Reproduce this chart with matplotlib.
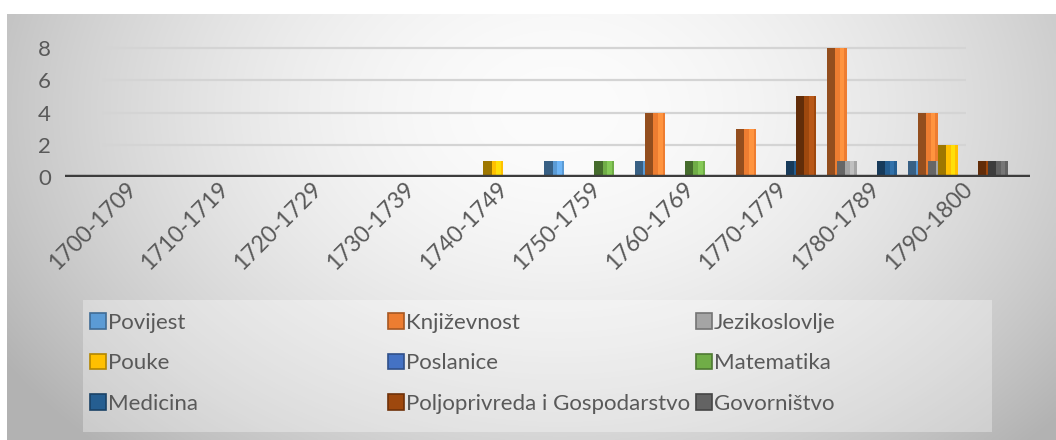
import numpy as np
import matplotlib
matplotlib.use("Agg")
import matplotlib.pyplot as plt
from matplotlib.patches import Patch, Rectangle
from matplotlib.transforms import ScaledTranslation
from matplotlib.colors import to_rgb

plt.rcParams['font.family'] = ['Lato', 'DejaVu Sans']

# ---- data -------------------------------------------------------------
decades = ["1700-1709", "1710-1719", "1720-1729", "1730-1739", "1740-1749",
           "1750-1759", "1760-1769", "1770-1779", "1780-1789", "1790-1800"]

povijest      = [0, 0, 0, 0, 0, 1, 1, 0, 0, 1]
knjizevnost   = [0, 0, 0, 0, 0, 0, 4, 3, 8, 4]
jezikoslovlje = [0, 0, 0, 0, 0, 0, 0, 0, 1, 1]
pouke         = [0, 0, 0, 0, 1, 0, 0, 0, 0, 2]
poslanice     = [0, 0, 0, 0, 0, 0, 0, 0, 0, 0]
matematika    = [0, 0, 0, 0, 0, 1, 1, 0, 0, 0]
medicina      = [0, 0, 0, 0, 0, 0, 0, 1, 1, 0]
poljoprivreda = [0, 0, 0, 0, 0, 0, 0, 5, 0, 1]
govornistvo   = [0, 0, 0, 0, 0, 0, 0, 0, 0, 1]

series_names = ["Povijest", "Književnost", "Jezikoslovlje", "Pouke", "Poslanice",
                "Matematika", "Medicina", "Poljoprivreda i Gospodarstvo", "Govorništvo"]
series_values = [povijest, knjizevnost, jezikoslovlje, pouke, poslanice,
                 matematika, medicina, poljoprivreda, govornistvo]
series_colors = ["#5B9BD5", "#ED7D31", "#A5A5A5", "#FFC000", "#4472C4",
                 "#70AD47", "#255E91", "#9E480E", "#636363"]

y_ticks = [0, 2, 4, 6, 8]

TEXT = "#595959"
W, H = 1056, 440

fig = plt.figure(figsize=(W / 100, H / 100), dpi=100)
fig.patch.set_facecolor("white")

# ---- soft radial background of the chart area --------------------------
bg = fig.add_axes([7 / W, 0, 1 - 7 / W, (H - 14) / H], zorder=-10)
gx, gy = np.meshgrid(np.linspace(7, W, 400), np.linspace(14, H, 200))
r = np.sqrt(((gx - 560) / 600) ** 2 + ((gy - 110) / 430) ** 2)
g = (252 - 62 * np.clip(r, 0, 1.1) ** 1.8) / 255
bg.imshow(np.dstack([g, g, g]), aspect="auto", extent=[0, 1, 0, 1],
          interpolation="bilinear")
bg.set_axis_off()

# ---- plot area ---------------------------------------------------------
ax = fig.add_axes([65 / W, (H - 177) / H, (1030 - 65) / W, 145 / H])
ax.set_facecolor("none")
n_cat = len(decades)
x = np.arange(n_cat)
ax.set_xlim(-0.81, 9.80)
ax.set_ylim(0, 9)

ax.hlines([t for t in y_ticks if t > 0], -0.4, 9.1, color="#d4d4d4",
          linewidth=1.6, zorder=0)
ax.hlines(0, -0.81, 9.80, color="#3c3c3c", linewidth=3.2, zorder=4)

step = 0.11
for k, (vals, col) in enumerate(zip(series_values, series_colors)):
    vals = np.asarray(vals, dtype=float)
    xc = x + (k - 4) * step
    m = vals > 0
    base = np.array(to_rgb(col))
    dark = base * 0.62
    light = np.minimum(base * 1.12 + 0.03, 1)
    z = 2 + k * 0.01
    # side face, front face and a highlight stripe
    ax.bar(xc[m] - 0.055, vals[m], width=0.09, color=dark, zorder=z)
    ax.bar(xc[m] + 0.055, vals[m], width=0.13, color=col, zorder=z)
    ax.bar(xc[m] + 0.065, vals[m], width=0.05, color=light, zorder=z)

for s in ax.spines.values():
    s.set_visible(False)

ax.set_yticks(y_ticks)
ax.set_yticklabels([str(t) for t in y_ticks], fontsize=16, color=TEXT)
ax.tick_params(axis="y", length=0, pad=10)

ax.set_xticks(x)
ax.set_xticklabels(decades, rotation=45, ha="right", va="center",
                   rotation_mode="anchor", fontsize=16.5, color=TEXT)
ax.tick_params(axis="x", length=0, pad=6)
for i, lab in enumerate(ax.get_xticklabels()):
    dx = (-6 + 2 * i) / 100
    lab.set_transform(lab.get_transform() + ScaledTranslation(dx, 0, fig.dpi_scale_trans))

# ---- legend ------------------------------------------------------------
fig.patches.append(Rectangle((83 / W, (H - 432) / H), (992 - 83) / W, 132 / H,
                             transform=fig.transFigure, facecolor="white",
                             alpha=0.32, edgecolor="none", zorder=-5))

col_x = [90, 388, 696]
for c in range(3):
    idx = [c, c + 3, c + 6]
    handles = [Patch(facecolor=series_colors[j],
                     edgecolor=tuple(np.array(to_rgb(series_colors[j])) * 0.7),
                     linewidth=1.2) for j in idx]
    fig.legend(handles, [series_names[j] for j in idx], loc="upper left",
               bbox_to_anchor=(col_x[c] / W, (H - 313) / H), frameon=False,
               fontsize=16, handlelength=0.7, handleheight=0.7,
               handletextpad=0.12, labelspacing=0.92, borderaxespad=0,
               borderpad=0, labelcolor=TEXT)

fig.savefig("out.png", dpi=100)
